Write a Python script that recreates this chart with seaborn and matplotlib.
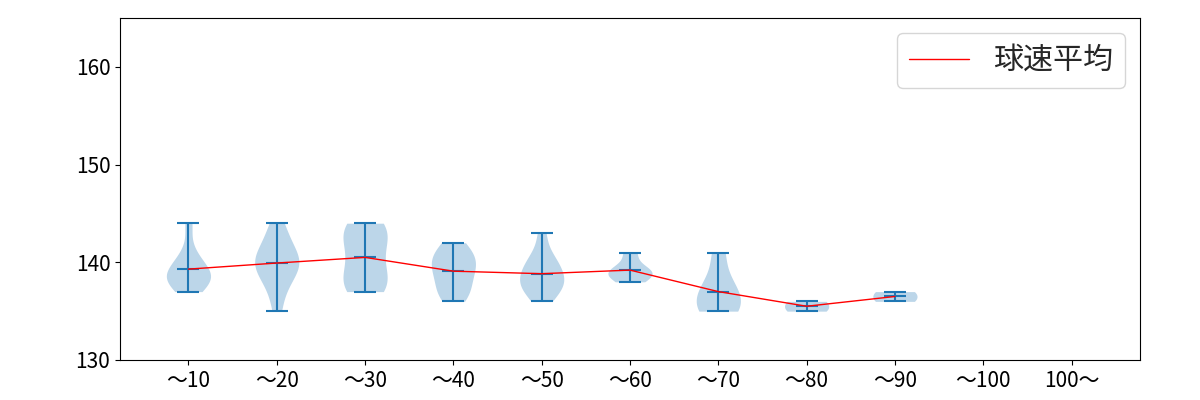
import matplotlib
matplotlib.use("Agg")
import matplotlib.pyplot as plt
import seaborn as sns
import pandas as pd
import numpy as np

sns.set_style("ticks")
plt.rcParams['font.family'] = ['Noto Sans CJK JP', 'DejaVu Sans']
plt.rcParams['font.size'] = 15

categories = ['～10', '～20', '～30', '～40', '～50', '～60', '～70', '～80', '～90', '～100', '100～']

speeds_10 = [137, 138, 138, 138, 139, 139, 139, 140, 141, 144]
speeds_20 = [135, 137, 138, 139, 139, 140, 140, 140, 141, 141, 142, 143, 144]
speeds_30 = [137, 137, 138, 138, 139, 140, 141, 142, 143, 143, 144, 144]
speeds_40 = [136, 137, 137, 138, 139, 139, 140, 140, 141, 141, 142]
speeds_50 = [136, 137, 137, 138, 138, 138, 139, 139, 140, 140, 141, 143]
speeds_60 = [138, 139, 139, 139, 141]
speeds_70 = [135, 135, 136, 137, 138, 141]
speeds_80 = [135, 136]
speeds_90 = [136, 137]
speeds_100 = []
speeds_over = []

groups = [speeds_10, speeds_20, speeds_30, speeds_40, speeds_50, speeds_60,
          speeds_70, speeds_80, speeds_90, speeds_100, speeds_over]

rows = []
for cat, vals in zip(categories, groups):
    for v in vals:
        rows.append({'cat': cat, 'speed': v})
df = pd.DataFrame(rows)

fig, ax = plt.subplots(figsize=(12, 4), dpi=100)
fig.subplots_adjust(left=0.1, right=0.95, top=0.955, bottom=0.1)

body_color = (0.7 + 0.3 * 0x1f / 255, 0.7 + 0.3 * 0x77 / 255, 0.7 + 0.3 * 0xb4 / 255)
sns.violinplot(data=df, x='cat', y='speed', order=categories, cut=0,
               inner=None, density_norm='width', common_norm=False,
               width=0.5, bw_method='scott', color=body_color,
               linewidth=0, saturation=1, ax=ax)

edge = '#1f77b4'
stats = df.groupby('cat', sort=False)['speed'].agg(['min', 'max', 'mean'])
pos = [categories.index(c) for c in stats.index]
half = 0.125
ax.vlines(pos, stats['min'], stats['max'], colors=edge, linewidth=1.5)
for col in ['min', 'max', 'mean']:
    ax.hlines(stats[col], np.array(pos) - half, np.array(pos) + half,
              colors=edge, linewidth=1.5)

mean_df = pd.DataFrame({'x': pos, 'mean': stats['mean'].values})
sns.lineplot(data=mean_df, x='x', y='mean', color='red', linewidth=1,
             label='球速平均', ax=ax)

ax.set_xlim(-0.775, 10.775)
ax.set_ylim(130, 165)
ax.set_yticks([130, 140, 150, 160])
ax.set_xticks(range(len(categories)))
ax.set_xticklabels(categories)
ax.set_xlabel('')
ax.set_ylabel('')
ax.tick_params(labelsize=15, colors='black')
for s in ax.spines.values():
    s.set_visible(True)
    s.set_color('black')
leg = ax.legend(loc='upper right', fontsize=21.6)

fig.savefig('out.png', dpi=100)
